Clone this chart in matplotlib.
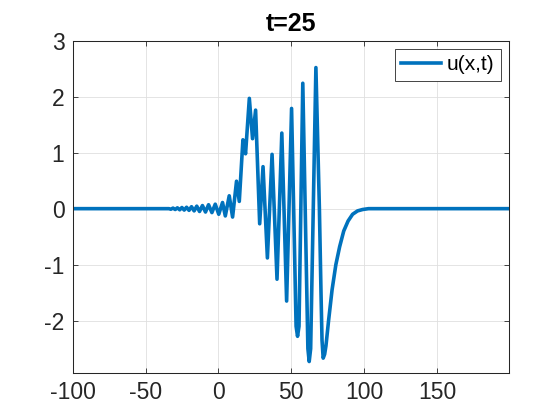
import matplotlib.pyplot as plt

# values (peaks, troughs and a few points on the slow tail)
x = [-100, -34.0, -32.7, -31.2, -29.7, -28.2, -26.6, -25.1, -23.5, -21.9,
     -20.2, -18.5, -16.7, -14.9, -13.0, -11.0, -8.9, -6.8, -4.5, -2.2,
     0.2, 2.8, 4.7, 7.4, 9.7, 12.4, 14.3, 16.8, 18.6, 21.2,
     23.4, 25.5, 28.3, 30.6, 33.6, 36.8, 40.2, 43.5, 46.8, 50.2,
     53.3, 54.3, 55.3, 57.9, 61.4, 62.3, 63.3, 66.9, 69.3, 70.4,
     71.1, 71.9, 72.9, 73.8, 75.6, 78.0, 80.6, 83.2, 86.0, 89.0,
     92.1, 95.5, 99.0, 103.0, 199.5]
u = [0.0, 0.0, -0.01, 0.01, -0.015, 0.015, -0.02, 0.02, -0.025, 0.025,
     -0.03, 0.035, -0.04, 0.045, -0.05, 0.055, -0.06, 0.07, -0.07, 0.08,
     -0.10, 0.11, -0.13, 0.23, -0.15, 0.49, 0.13, 1.23, 0.98, 1.97,
     1.25, 1.76, -0.27, 0.75, -0.88, 0.97, -1.26, 1.35, -1.65, 1.79,
     -2.1, -2.28, -2.1, 2.24, -2.5, -2.73, -2.5, 2.52, 0.0, -1.5,
     -2.35, -2.67, -2.6, -2.45, -2.0, -1.45, -1.0, -0.68, -0.40, -0.22,
     -0.10, -0.04, -0.015, 0.0, 0.0]

xticks = [-100, -50, 0, 50, 100, 150]
yticks = [-2, -1, 0, 1, 2, 3]
title = 't=25'
label = 'u(x,t)'


def plot(fname='out.png'):
    plt.rcParams['font.family'] = ['Liberation Sans', 'DejaVu Sans']
    plt.rcParams['axes.unicode_minus'] = False
    fig = plt.figure(figsize=(5.6, 4.2), dpi=100)
    ax = fig.add_axes([0.13, 0.1126, 0.779, 0.7905])
    ax.plot(x, u, color='#0072BD', lw=2.6, label=label)
    ax.set_xlim(-100, 199.5)
    ax.set_ylim(-2.93, 3)
    ax.set_xticks(xticks)
    ax.set_yticks(yticks)
    ax.grid(True, color='#dfdfdf', lw=0.6)
    ax.set_axisbelow(True)
    for s in ax.spines.values():
        s.set_color('#262626')
        s.set_linewidth(0.75)
    ax.tick_params(direction='in', length=3.5, width=0.6, colors='#262626',
                   labelsize=16.5, top=True, right=True, pad=6)
    ax.set_title(title, fontsize=18, fontweight='bold', pad=7)
    leg = ax.legend(loc='upper right', fontsize=15, fancybox=False,
                    edgecolor='#262626', framealpha=1, handlelength=1.9,
                    handletextpad=0.3, borderaxespad=0.4, borderpad=0.3)
    leg.get_frame().set_linewidth(0.6)
    fig.savefig(fname, dpi=100)


if __name__ == '__main__':
    plot()
